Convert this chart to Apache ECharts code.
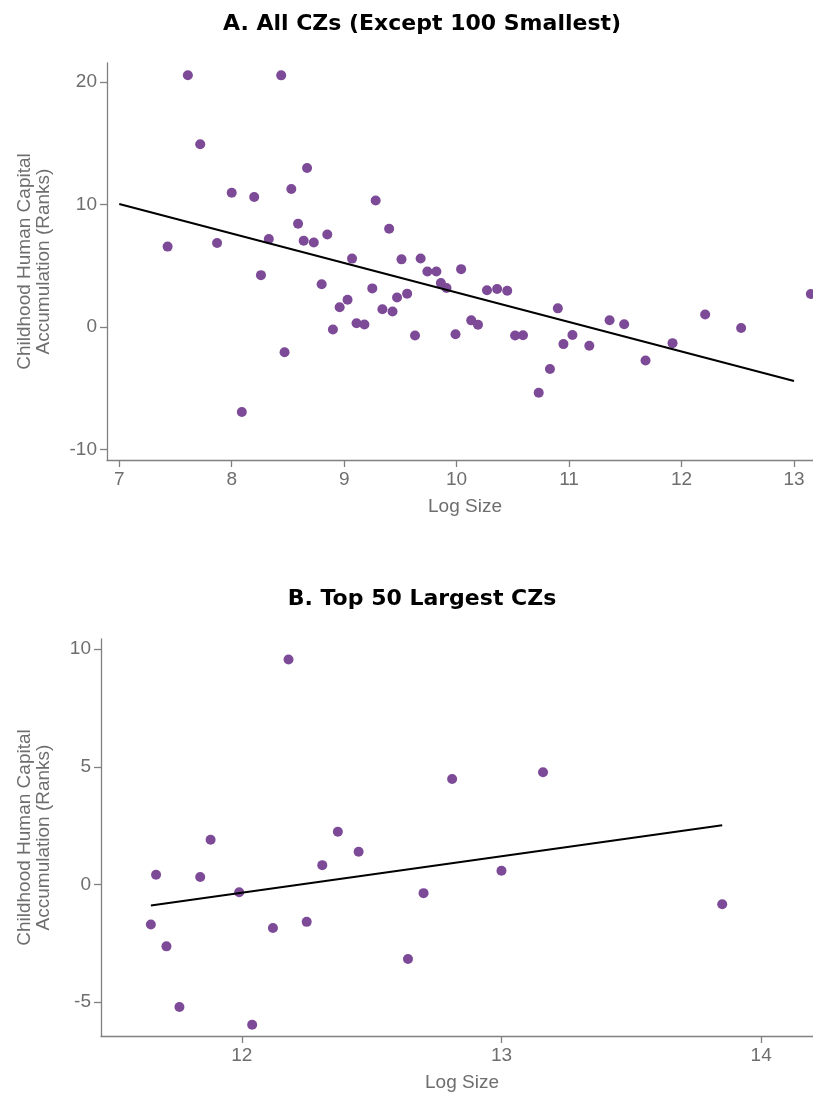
<!DOCTYPE html>
<html>
<head>
<meta charset="utf-8">
<script src="https://cdn.jsdelivr.net/npm/echarts@6/dist/echarts.min.js"></script>
<style>
html,body{margin:0;padding:0;background:#fff;overflow:hidden;}
#c{width:813px;height:1093px;}
</style>
</head>
<body>
<div id="c"></div>
<script>
// Panel A: All CZs (except 100 smallest)
const logSizeA = [7.43,7.61,7.72,7.87,8.00,8.09,8.20,8.26,8.33,8.44,8.47,8.53,8.59,8.64,8.67,8.73,8.80,8.85,8.90,8.96,9.03,9.07,9.11,9.18,9.25,9.28,9.34,9.40,9.43,9.47,9.51,9.56,9.63,9.68,9.74,9.82,9.86,9.91,9.99,10.04,10.13,10.19,10.27,10.36,10.45,10.52,10.59,10.73,10.83,10.90,10.95,11.03,11.18,11.36,11.49,11.68,11.92,12.21,12.53,13.15];
const ranksA   = [6.56,20.55,14.91,6.85,10.96,-6.94,10.61,4.23,7.18,20.54,-2.06,11.27,8.42,7.04,12.98,6.90,3.49,7.55,-0.20,1.61,2.22,5.58,0.30,0.20,3.15,10.33,1.44,8.02,1.27,2.41,5.52,2.72,-0.70,5.59,4.53,4.53,3.58,3.18,-0.60,4.72,0.54,0.18,3.00,3.10,2.96,-0.70,-0.67,-5.37,-3.43,1.52,-1.40,-0.65,-1.53,0.55,0.22,-2.73,-1.32,1.02,-0.08,2.69];
const fitA = [[7.0, 10.04], [13.0, -4.41]];
const xTicksA = [7,8,9,10,11,12,13];
const yTicksA = [-10,0,10,20];

// Panel B: Top 50 largest CZs
const logSizeB = [11.65,11.67,11.71,11.76,11.84,11.88,11.99,12.04,12.12,12.18,12.25,12.31,12.37,12.45,12.64,12.70,12.81,13.00,13.16,13.85];
const ranksB   = [-1.70,0.41,-2.63,-5.21,0.32,1.90,-0.33,-5.96,-1.85,9.56,-1.59,0.82,2.24,1.39,-3.17,-0.37,4.48,0.58,4.77,-0.84];
const fitB = [[11.65, -0.89], [13.85, 2.52]];
const xTicksB = [12,13,14];
const yTicksB = [-5,0,5,10];

const titles = ['A. All CZs (Except 100 Smallest)', 'B. Top 50 Largest CZs'];
const xName = 'Log Size';
const yName = 'Childhood Human Capital\nAccumulation (Ranks)';

const dotColor = '#7d4a98';
const axisColor = '#808080';
const labelColor = '#6e6e6e';
const fontFam = 'Liberation Sans, Arial, sans-serif';
const titleFont = 'DejaVu Sans, sans-serif';

function xAxis(gridIndex, min, max, ticks) {
  return {
    type: 'value', gridIndex, min, max,
    name: xName, nameLocation: 'middle', nameGap: 37,
    nameTextStyle: {color: labelColor, fontSize: 19, fontFamily: fontFam},
    axisLine: {show: true, onZero: false, lineStyle: {color: axisColor, width: 1.3}},
    axisTick: {show: true, length: 7, lineStyle: {color: axisColor, width: 1.3}, customValues: ticks},
    axisLabel: {color: labelColor, fontSize: 19, fontFamily: fontFam, margin: 10, customValues: ticks},
    splitLine: {show: false}
  };
}
function yAxis(gridIndex, min, max, ticks, gap) {
  return {
    type: 'value', gridIndex, min, max,
    name: yName, nameLocation: 'middle', nameGap: gap, nameRotate: 90,
    nameTextStyle: {color: labelColor, fontSize: 19, fontFamily: fontFam, lineHeight: 19},
    axisLine: {show: true, onZero: false, lineStyle: {color: axisColor, width: 1.3}},
    axisTick: {show: true, length: 7, lineStyle: {color: axisColor, width: 1.3}, customValues: ticks},
    axisLabel: {color: labelColor, fontSize: 19, fontFamily: fontFam, margin: 10, customValues: ticks},
    splitLine: {show: false}
  };
}

const chart = echarts.init(document.getElementById('c'), null, {renderer: 'canvas'});
chart.setOption({
  backgroundColor: '#fff',
  animation: false,
  title: [
    {text: titles[0], left: 417, top: 8, textAlign: 'center',
     textStyle: {fontSize: 22, fontWeight: 'bold', color: '#000', fontFamily: titleFont}},
    {text: titles[1], left: 417, top: 583, textAlign: 'center',
     textStyle: {fontSize: 22, fontWeight: 'bold', color: '#000', fontFamily: titleFont}}
  ],
  grid: [
    {left: 107, top: 63, width: 716, height: 397, outerBoundsMode: 'none', containLabel: false},
    {left: 101, top: 639, width: 722, height: 397, outerBoundsMode: 'none', containLabel: false}
  ],
  xAxis: [
    xAxis(0, 6.891, 13.258, xTicksA),
    xAxis(1, 11.458, 14.238, xTicksB)
  ],
  yAxis: [
    yAxis(0, -10.86, 21.55, yTicksA, 54),
    yAxis(1, -6.44, 10.43, yTicksB, 48)
  ],
  series: [
    {type: 'scatter', xAxisIndex: 0, yAxisIndex: 0, symbolSize: 10,
     itemStyle: {color: dotColor, opacity: 1},
     data: logSizeA.map((x, i) => [x, ranksA[i]]), z: 3},
    {type: 'line', xAxisIndex: 0, yAxisIndex: 0, data: fitA, symbol: 'none',
     lineStyle: {color: '#000', width: 2}, z: 4},
    {type: 'scatter', xAxisIndex: 1, yAxisIndex: 1, symbolSize: 10,
     itemStyle: {color: dotColor, opacity: 1},
     data: logSizeB.map((x, i) => [x, ranksB[i]]), z: 3},
    {type: 'line', xAxisIndex: 1, yAxisIndex: 1, data: fitB, symbol: 'none',
     lineStyle: {color: '#000', width: 2}, z: 4}
  ]
});
</script>
</body>
</html>
